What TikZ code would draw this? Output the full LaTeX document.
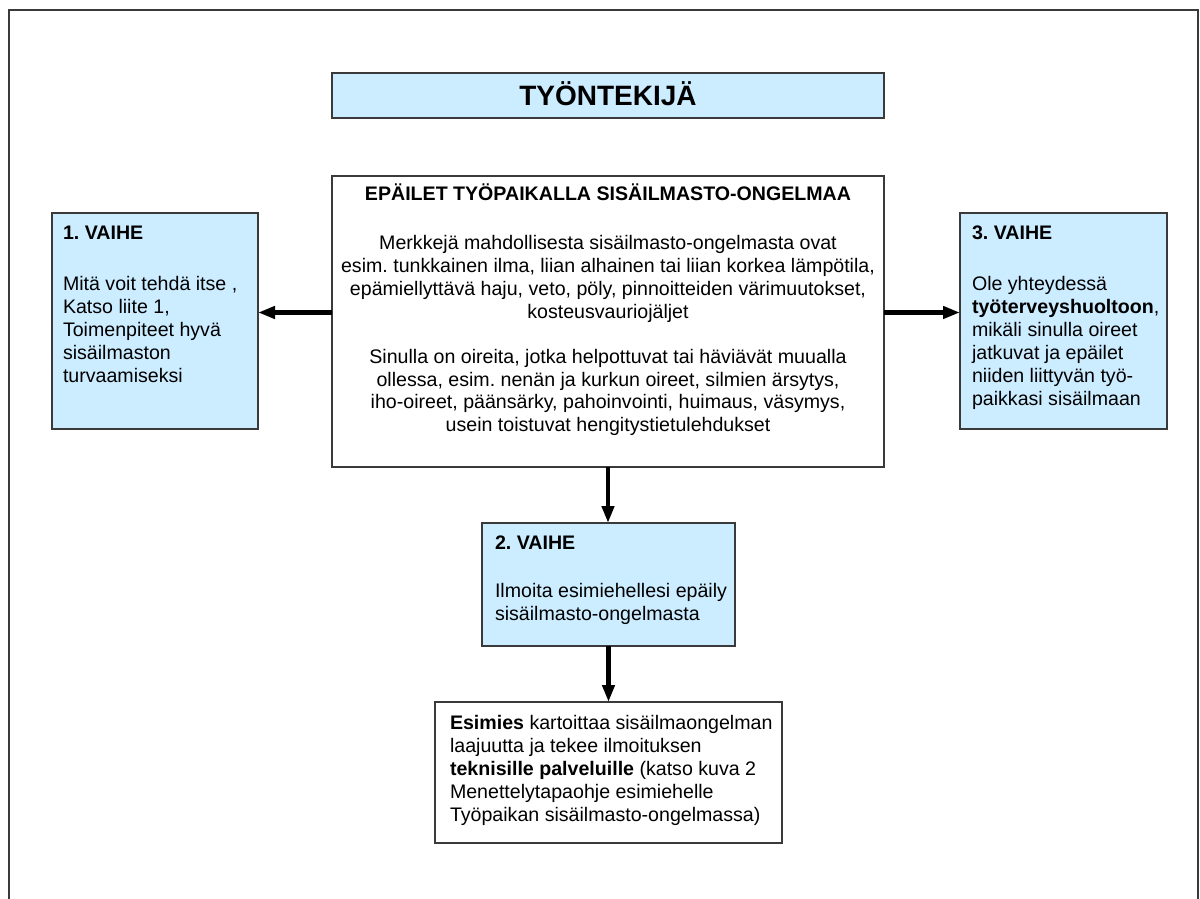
\documentclass[tikz,border=0pt]{standalone}
\usepackage{fontspec}
\setmainfont{Liberation Sans}
\usetikzlibrary{arrows.meta,calc}
\definecolor{boxblue}{HTML}{CCECFF}
\definecolor{linec}{HTML}{3A3A3A}
\frenchspacing
\begin{document}
\begin{tikzpicture}[x=1pt,y=-1pt,
  box/.style={draw=linec,line width=1.4pt,anchor=north west,inner sep=0pt,outer sep=0pt},
  bluebox/.style={box,fill=boxblue},
  whitebox/.style={box,fill=white},
  txt/.style={inner sep=0pt,outer sep=0pt,font=\fontsize{19.6pt}{23pt}\selectfont\frenchspacing},
  arr/.style={line width=4.5pt,-{Triangle[length=17pt,width=12pt]}}]
\useasboundingbox (0,0) rectangle (1200,899);
\clip (0,0) rectangle (1200,899);
\fill[white] (0,0) rectangle (1200,899);
\draw[line width=2pt,draw=linec] (9,10) rectangle (1198,940);
% boxes
\node[bluebox,minimum width=552pt,minimum height=45pt] (title) at (332,73) {};
\node[whitebox,minimum width=552pt,minimum height=291pt] (c) at (332,176) {};
\node[bluebox,minimum width=206pt,minimum height=216pt] (s1) at (52,213) {};
\node[bluebox,minimum width=207pt,minimum height=216pt] (s3) at (960,213) {};
\node[bluebox,minimum width=253pt,minimum height=123pt] (s2) at (482,523) {};
\node[whitebox,minimum width=347pt,minimum height=141pt] (e) at (435,702) {};
% texts
\node[txt,anchor=base,font=\fontsize{28pt}{32pt}\selectfont\bfseries] (titletext) at (608,105.5) {TYÖNTEKIJÄ};
\node[txt,anchor=base] (ctext) at (608,200) {\parbox[t]{548pt}{\centering
  \textbf{EPÄILET TYÖPAIKALLA SISÄILMASTO-ONGELMAA}\\[26pt]
  Merkkejä mahdollisesta sisäilmasto-ongelmasta ovat\\
  esim. tunkkainen ilma, liian alhainen tai liian korkea lämpötila,\\
  epämiellyttävä haju, veto, pöly, pinnoitteiden värimuutokset,\\
  kosteusvauriojäljet\\[22pt]
  Sinulla on oireita, jotka helpottuvat tai häviävät muualla\\
  ollessa, esim. nenän ja kurkun oireet, silmien ärsytys,\\
  iho-oireet, päänsärky, pahoinvointi, huimaus, väsymys,\\
  usein toistuvat hengitystietulehdukset}};
\node[txt,anchor=base west] (t1) at (63,239) {\parbox[t]{195pt}{\raggedright
  \textbf{1. VAIHE}\\[28pt]
  Mitä voit tehdä itse ,\\
  Katso liite 1,\\
  Toimenpiteet hyvä\\
  sisäilmaston\\
  turvaamiseksi}};
\node[txt,anchor=base west] (t3) at (972,239) {\parbox[t]{195pt}{\raggedright
  \textbf{3. VAIHE}\\[28pt]
  Ole yhteydessä\\
  \textbf{työterveyshuoltoon},\\
  mikäli sinulla oireet\\
  jatkuvat ja epäilet\\
  niiden liittyvän työ-\\
  paikkasi sisäilmaan}};
\node[txt,anchor=base west] (t2) at (495,549) {\parbox[t]{238pt}{\raggedright
  \textbf{2. VAIHE}\\[25pt]
  Ilmoita esimiehellesi epäily\\
  sisäilmasto-ongelmasta}};
\node[txt,anchor=base west] (te) at (450,729) {\parbox[t]{330pt}{\raggedright
  \textbf{Esimies} kartoittaa sisäilmaongelman\\
  laajuutta ja tekee ilmoituksen\\
  \textbf{teknisille palveluille} (katso kuva 2\\
  Menettelytapaohje esimiehelle\\
  Työpaikan sisäilmasto-ongelmassa)}};
% connectors
\draw[arr] ([yshift=9pt]c.west) -- ([yshift=9pt]c.west -| s1.east);
\draw[arr] ([yshift=9pt]c.east) -- ([yshift=9pt]c.east -| s3.west);
\draw[arr] (c.south) -- (c.south |- s2.north);
\draw[arr] (s2.south) -- (s2.south |- e.north);
\end{tikzpicture}
\end{document}
